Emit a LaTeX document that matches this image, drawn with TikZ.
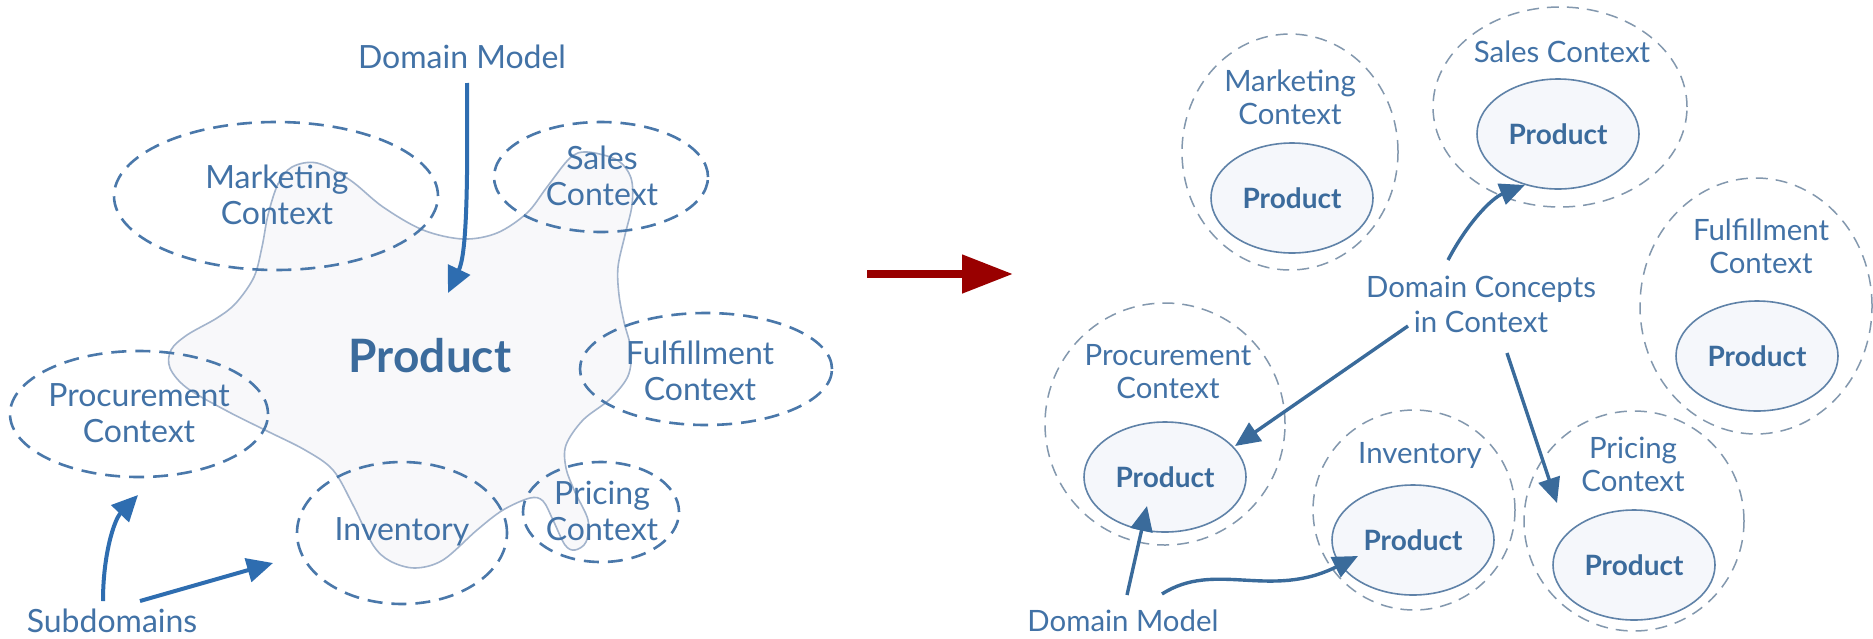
\documentclass[tikz,border=0pt]{standalone}
\usepackage{fontspec}
\setmainfont{Lato}
\usetikzlibrary{arrows.meta,shapes.geometric}
\definecolor{txt}{HTML}{4272A6}
\definecolor{txtb}{HTML}{3B6B9C}
\definecolor{dashL}{HTML}{4A78AA}
\definecolor{dashR}{HTML}{8398AE}
\definecolor{arrL}{HTML}{2E6DB0}
\definecolor{arrR}{HTML}{3A6B9B}
\definecolor{blobfill}{HTML}{F8F8FA}
\definecolor{blobline}{HTML}{A3B4CC}
\definecolor{innerfill}{HTML}{F5F7FB}
\definecolor{innerline}{HTML}{5F82A8}
\definecolor{redarr}{HTML}{990000}
\begin{document}
\begin{tikzpicture}[x=0.5pt,y=-0.5pt,
  ctxL/.style={ellipse, draw=dashL, line width=1.3pt, dash pattern=on 7.5pt off 4.5pt, inner sep=0pt},
  ctxR/.style={ellipse, draw=dashR, line width=0.75pt, dash pattern=on 6pt off 4pt, inner sep=0pt},
  prod/.style={ellipse, draw=innerline, fill=innerfill, line width=0.8pt, inner sep=0pt,
    minimum width=81pt, minimum height=55pt, text=txtb, font=\fontsize{14}{16}\selectfont\bfseries},
  lblL/.style={text=txt, align=center, inner sep=0pt, font=\fontsize{16}{18}\selectfont},
  lblR/.style={text=txt, align=center, inner sep=0pt, font=\fontsize{14.7}{16.5}\selectfont},
  arrowL/.style={draw=arrL, line width=2pt, -{Triangle[length=13pt,width=12pt]}},
  arrowR/.style={draw=arrR, line width=1.7pt, -{Triangle[length=12.5pt,width=11pt]}}
]
\useasboundingbox (0,0) rectangle (1873,638);
\fill[white] (0,0) rectangle (1873,638);

% ---------- left: blob ----------
\draw[fill=blobfill, draw=blobline, line width=0.8pt]
  plot[smooth cycle, tension=0.55] coordinates {
  (317,163) (350,180) (383,207) (423,230) (463,239) (497,233) (527,213) (547,187)
  (570,158) (587,152) (617,160) (631,178) (632,205) (625,235) (618,267) (619,295)
  (624,322) (631,350) (628,376) (610,399) (583,420) (566,445) (566,468) (575,492)
  (588,520) (586,542) (575,550) (565,545) (553,520) (543,501) (530,498) (503,510)
  (477,530) (443,560) (415,568) (390,561) (373,545) (353,505) (333,470) (305,450)
  (267,431) (227,411) (187,388) (170,368) (171,350) (187,335) (217,318) (236,303)
  (254,277) (262,247) (268,215) (278,184) (292,167)};

\node[text=txtb, inner sep=0pt, font=\fontsize{23}{26}\selectfont\bfseries] (bigP) at (430,356) {Product};

% ---------- left: context ellipses ----------
\node[ctxL, minimum width=162pt, minimum height=74pt] (mkL) at (276,196) {};
\node[ctxL, minimum width=107pt, minimum height=55pt] (slL) at (601,177) {};
\node[ctxL, minimum width=126pt, minimum height=56pt] (ffL) at (706,369) {};
\node[ctxL, minimum width=129pt, minimum height=63pt] (prL) at (139,414) {};
\node[ctxL, minimum width=105pt, minimum height=71pt] (ivL) at (402,533) {};
\node[ctxL, minimum width=78pt,  minimum height=50pt] (pcL) at (601,512) {};

\node[lblL] (mkLt) at (277,195) {Marketing\\Context};
\node[lblL] (slLt) at (602,176) {Sales\\Context};
\node[lblL] (ffLt) at (700,371) {Fulfillment\\Context};
\node[lblL] (prLt) at (139,413) {Procurement\\Context};
\node[lblL] (ivLt) at (402,532) {Inventory};
\node[lblL] (pcLt) at (602,511) {Pricing\\Context};

\node[lblL] (dmL) at (462,57) {Domain Model};
\node[lblL] (sub) at (112,621) {Subdomains};

\coordinate (dmTop) at (467,83);
\coordinate (dmTip) at (448,293);
\draw[arrowL] (dmTop) .. controls (468,200) and (466,255) .. (dmTip);

\coordinate (sub1) at (103,601);
\coordinate (sub1tip) at (138,495);
\draw[arrowL] (sub1) .. controls (103,555) and (114,520) .. (sub1tip);
\coordinate (sub2) at (140,601);
\coordinate (sub2tip) at (273,563);
\draw[arrowL] (sub2) -- (sub2tip);

% ---------- middle arrow ----------
\coordinate (midA) at (867,274);
\coordinate (midB) at (1013,274);
\draw[draw=redarr, line width=4pt, -{Triangle[length=25.5pt,width=18.5pt]}] (midA) -- (midB);

% ---------- right: contexts ----------
\node[ctxR, minimum width=108pt, minimum height=118pt] (mkR) at (1290,152) {};
\node[ctxR, minimum width=127pt, minimum height=100pt] (slR) at (1560,107) {};
\node[ctxR, minimum width=116pt, minimum height=128pt] (ffR) at (1756,306) {};
\node[ctxR, minimum width=120pt, minimum height=121pt] (prR) at (1165,424) {};
\node[ctxR, minimum width=101pt, minimum height=100pt] (ivR) at (1414,510) {};
\node[ctxR, minimum width=110pt, minimum height=110pt] (pcR) at (1634,521) {};

\node[prod] (mkP) at (1292,198) {Product};
\node[prod] (slP) at (1558,134) {Product};
\node[prod] (ffP) at (1757,356) {Product};
\node[prod] (prP) at (1165,477) {Product};
\node[prod] (ivP) at (1413,540) {Product};
\node[prod] (pcP) at (1634,565) {Product};

\node[lblR] (mkRt) at (1290,97) {Marketing\\Context};
\node[lblR] (slRt) at (1562,52) {Sales Context};
\node[lblR] (ffRt) at (1761,246) {Fulfillment\\Context};
\node[lblR] (prRt) at (1168,372) {Procurement\\Context};
\node[lblR] (ivRt) at (1420,455) {Inventory};
\node[lblR] (pcRt) at (1633,464) {Pricing\\Context};

\node[lblR, font=\fontsize{14.7}{17.5}\selectfont] (dc) at (1481,304) {Domain Concepts\\in Context};
\node[lblR] (dmR) at (1123,621) {Domain Model};

\coordinate (dc1) at (1448,260);
\draw[arrowR] (dc1) .. controls (1468,222) and (1492,198) .. (slP.237);
\coordinate (dc2) at (1408,326);
\coordinate (dc2tip) at (1235,446);
\draw[arrowR] (dc2) -- (dc2tip);
\coordinate (dc3) at (1507,353);
\coordinate (dc3tip) at (1557,503);
\draw[arrowR] (dc3) -- (dc3tip);

\coordinate (dm1) at (1127,595);
\coordinate (dm1tip) at (1147,506);
\draw[arrowR] (dm1) -- (dm1tip);
\coordinate (dm2) at (1162,594);
\coordinate (dm2tip) at (1358,556);
\draw[arrowR] (dm2) .. controls (1215,560) and (1270,600) .. (dm2tip);
\end{tikzpicture}
\end{document}
